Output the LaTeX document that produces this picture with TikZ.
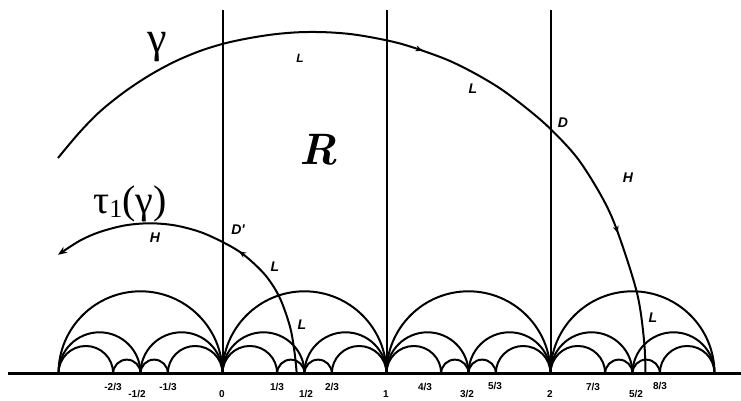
\documentclass[tikz,border=0pt]{standalone}
\usepackage{fontspec}
\newfontfamily\grkfont{Liberation Serif}
\newfontfamily\helfont{Liberation Sans}
\usetikzlibrary{arrows.meta,decorations.markings}
\begin{document}
\begin{tikzpicture}[x=1pt,y=1pt,
  fareyarc/.style={line width=2pt},
  geoline/.style={line width=2pt},
  vline/.style={line width=2pt},
  axisline/.style={line width=2.6pt},
  lbl/.style={font=\helfont\bfseries\itshape\fontsize{14}{14}\selectfont, inner sep=0pt},
  ticklbl/.style={font=\helfont\bfseries\fontsize{10}{10}\selectfont, inner sep=0pt},
  bigtxt/.style={inner sep=0pt}]
\useasboundingbox (0,0) rectangle (741,400);
\fill[white] (0,0) rectangle (741,400);

% axis
\coordinate (axL) at (8,26.7);
\coordinate (axR) at (741,26.7);
\draw[axisline] (axL) -- (axR);

% vertical lines at 0, 1, 2
\coordinate (v0b) at (222.5,26.7); \coordinate (v0t) at (222.5,390);
\coordinate (v1b) at (386.5,26.7); \coordinate (v1t) at (386.5,390);
\coordinate (v2b) at (550.5,26.7); \coordinate (v2t) at (550.5,390);
\draw[vline] (v0b) -- (v0t);
\draw[vline] (v1b) -- (v1t);
\draw[vline] (v2b) -- (v2t);

% Farey semicircles
\begin{scope}[shift={(222.5,26.7)}, x=164pt, y=164pt]
\foreach \n in {-1,0,1,2}{
  \draw[fareyarc] (\n,0) arc[start angle=180,end angle=0,radius=0.5];
  \draw[fareyarc] (\n,0) arc[start angle=180,end angle=0,radius=0.25];
  \draw[fareyarc] (\n+0.5,0) arc[start angle=180,end angle=0,radius=0.25];
  \draw[fareyarc] (\n,0) arc[start angle=180,end angle=0,radius=1/6];
  \draw[fareyarc] (\n+2/3,0) arc[start angle=180,end angle=0,radius=1/6];
  \draw[fareyarc] (\n+1/3,0) arc[start angle=180,end angle=0,radius=1/12];
  \draw[fareyarc] (\n+0.5,0) arc[start angle=180,end angle=0,radius=1/12];
}
\end{scope}

% gamma
\draw[geoline, postaction={decorate},
  decoration={markings,
    mark=at position 0.492 with {\arrow{Stealth[length=7pt,width=6pt]}},
    mark=at position 0.826 with {\arrow{Stealth[length=7pt,width=6pt]}}}]
  plot[smooth, tension=0.55] coordinates {(58,242) (79,267) (100,288.5) (125,308.5) (150,325) (175,338.5) (200,349) (225,356.7) (250,362) (275,365.8) (300,367.8) (325,367.8) (350,366) (375,362) (400,356.5) (425,348.5) (450,339) (475,326.5) (500,311.6) (525,293) (550,271.5) (578,241) (603,201) (618,167) (637,107) (644,60) (645.5,26.7)};

% tau_1(gamma)
\draw[geoline, -{Stealth[length=9pt,width=7pt]}, postaction={decorate},
  decoration={markings,
    mark=at position 0.42 with {\arrow{Stealth[length=7pt,width=6pt]}}}]
  plot[smooth, tension=0.55] coordinates {(296.7,26.7) (294.5,48) (290,73.3) (280,101.7) (268,121.5) (255,135.5) (240,148) (222,158.3) (200,168.1) (175,174.6) (150,176.7) (125,174.6) (100,168.1) (80,159.4) (58,145.2)};

% big labels
\node[bigtxt] (gam) at (157,353) {\grkfont\fontsize{44}{44}\selectfont γ};
\node[bigtxt] (R) at (318,250) {\fontsize{44}{44}\selectfont\bfseries\itshape R};
\node[bigtxt] (tau) at (130,196) {\grkfont\fontsize{40}{40}\selectfont τ\raisebox{-4pt}{\fontsize{26}{26}\selectfont 1}(γ)};

% small labels
\node[lbl, font=\helfont\bfseries\itshape\fontsize{12}{12}\selectfont] (L1) at (300,342) {L};
\node[lbl] (L2) at (473,311) {L};
\node[lbl] (D) at (563,277) {D};
\node[lbl] (H1) at (628,222) {H};
\node[lbl] (L3) at (653,82) {L};
\node[lbl] (H2) at (155,162) {H};
\node[lbl] (Dp) at (238,170) {D'};
\node[lbl] (L4) at (275,133) {L};
\node[lbl] (L5) at (302,75) {L};

% tick labels
\node[ticklbl] (t1) at (113,13) {-2/3};
\node[ticklbl] (t2) at (137,6) {-1/2};
\node[ticklbl] (t3) at (168,13) {-1/3};
\node[ticklbl] (t4) at (222,6) {0};
\node[ticklbl] (t5) at (277,13) {1/3};
\node[ticklbl] (t6) at (306,6) {1/2};
\node[ticklbl] (t7) at (332,13) {2/3};
\node[ticklbl] (t8) at (386,6) {1};
\node[ticklbl] (t9) at (425,13) {4/3};
\node[ticklbl] (t10) at (467,6) {3/2};
\node[ticklbl] (t11) at (495,14) {5/3};
\node[ticklbl] (t12) at (550,6) {2};
\node[ticklbl] (t13) at (593,13) {7/3};
\node[ticklbl] (t14) at (636,6) {5/2};
\node[ticklbl] (t15) at (660,14) {8/3};
\end{tikzpicture}
\end{document}
